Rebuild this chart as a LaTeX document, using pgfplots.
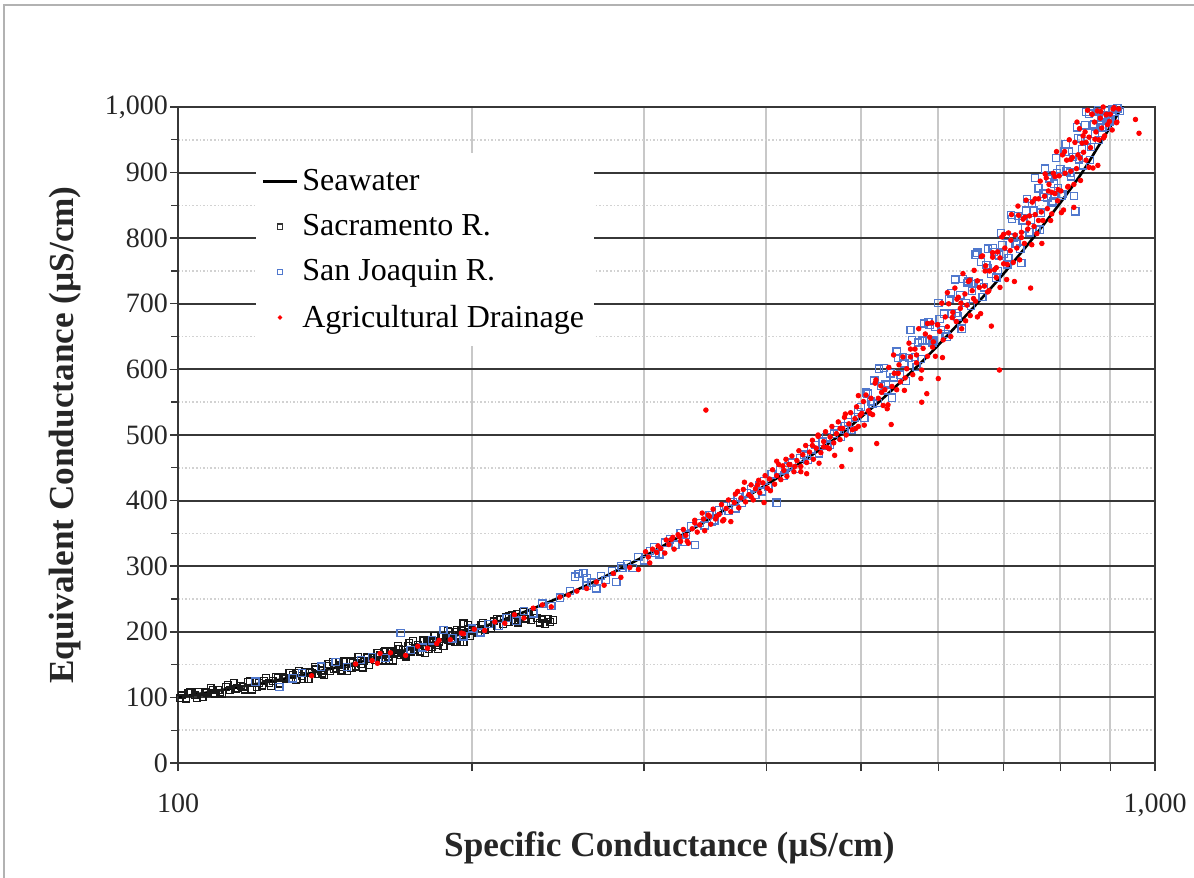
\documentclass[border=0pt]{standalone}
\usepackage{fontspec}
\setmainfont{Liberation Serif}
\usepackage{pgfplots}
\pgfplotsset{compat=1.18}
\definecolor{sjblue}{RGB}{80,120,205}
\definecolor{agred}{RGB}{255,0,0}
\definecolor{gridlight}{RGB}{200,200,200}
\definecolor{griddark}{RGB}{55,55,55}
\begin{document}
\begin{tikzpicture}
\path[use as bounding box] (-89pt,-57.5pt) rectangle (508pt,381.5pt);
\draw[gray!60, line width=1pt] (-87pt,-57.5pt) -- (-87pt,379pt) -- (508pt,379pt);
\begin{axis}[
  at={(0pt,0pt)}, anchor=south west,
  scale only axis, width=488.5pt, height=328pt,
  xmode=log, log basis x=10,
  xmin=100, xmax=1000, ymin=0, ymax=1000,
  xtick={100,200,300,400,500,600,700,800,900,1000},
  xticklabels={100,,,,,,,,,{1,000}},
  ytick={0,100,...,1000},
  minor ytick={50,150,...,950},
  /pgf/number format/assume math mode=true,
  /pgf/number format/1000 sep={,},
  tick label style={font=\fontsize{14pt}{17pt}\selectfont, black!85},
  xticklabel style={yshift=-8pt},
  yticklabel style={xshift=2.5pt},
  label style={font=\bfseries\fontsize{17.6pt}{20pt}\selectfont, black!85},
  xlabel={Specific Conductance (µS/cm)},
  ylabel={Equivalent Conductance (µS/cm)},
  xlabel style={at={(axis description cs:0.503,-0.13)}, anchor=center},
  ylabel style={at={(axis description cs:-0.1157,0.5)}, anchor=center, rotate=0},
  xmajorgrids=true, ymajorgrids=true, yminorgrids=true,
  major x grid style={gridlight, line width=0.9pt},
  major y grid style={griddark, line width=1pt},
  minor y grid style={gray!35, line width=0.8pt, densely dotted},
  tick align=outside, tick pos=left,
  major tick length=4pt, minor tick length=3.5pt,
  tick style={griddark, line width=0.7pt},
  axis line style={griddark, line width=1pt},
  legend style={at={(0.079,0.93)}, anchor=north west, draw=none, fill=white,
    font=\fontsize{16pt}{19pt}\selectfont, row sep=6.5pt, inner xsep=3pt, inner ysep=6pt},
  legend cell align=left,
]
\addlegendimage{black, line width=1.3pt}
\addlegendentry{Seawater}
\addlegendimage{only marks, mark=square, mark size=1.3pt, draw=black!80, mark options={line width=0.6pt}}
\addlegendentry{Sacramento R.}
\addlegendimage{only marks, mark=square, mark size=1.3pt, draw=sjblue, mark options={line width=0.6pt}}
\addlegendentry{San Joaquin R.}
\addlegendimage{only marks, mark=*, mark size=0.9pt, agred, mark options={draw=agred, fill=agred}}
\addlegendentry{Agricultural Drainage}

% Sacramento R.
\addplot[forget plot, only marks, mark=square, mark size=1.7pt, draw=black!90, mark options={line width=0.65pt}] coordinates {
(101,103) (102,98) (103,108) (104,103) (105,108) (106,100) (107,107) (108,114) (109,106) (110,111) (111,105) (112,116) (113,111) (114,122) (115,114) (116,118) (117,112) (118,124) (119,112) (120,124) (121,122) (122,118) (123,130) (124,122) (125,125) (126,131) (127,121) (128,131) (129,128) (130,137)
(131,134) (132,127) (133,140) (134,133) (135,139) (136,128) (137,137) (138,146) (139,135) (140,141) (141,134) (142,148) (143,140) (144,154) (145,144) (146,149) (147,141) (148,155) (149,140) (150,155) (151,153) (152,147) (153,162) (154,151) (155,155) (156,162) (157,149) (158,161) (159,157) (160,168)
(161,164) (162,156) (163,171) (164,162) (165,170) (166,156) (167,167) (168,178) (169,164) (170,172) (171,162) (172,179) (173,170) (174,186) (175,173) (176,180) (177,170) (178,187) (179,168) (180,185) (181,183) (182,177) (183,194) (184,180) (185,185) (186,193) (187,178) (188,192) (189,187) (190,200)
(191,195) (192,184) (193,203) (194,192) (195,201) (196,184) (197,197) (198,210) (199,193) (200,202)
(100.5,98.5) (102.5,106.6) (104.5,99.3) (106.5,107.6) (108.5,111.8) (110.5,107.2) (112.5,119.3) (114.5,113.4) (116.5,116.5) (118.5,124.4) (120.5,115.7) (122.5,125) (124.5,117) (126.5,130.3) (128.5,129.8) (130.5,127.9) (132.5,137.8) (134.5,127.8) (136.5,137.9) (138.5,142.7) (140.5,136.3) (142.5,151) (144.5,143.1) (146.5,146.5) (148.5,155.9)
(150.5,144.5) (152.5,155.6) (154.5,145.2) (156.5,161.2) (158.5,160.1) (160.5,157.3) (162.5,169) (164.5,156.3) (166.5,168.2) (168.5,173.6) (170.5,165.4) (172.5,182.9) (174.5,172.8) (176.5,176.5) (178.5,187.4) (180.5,173.3) (182.5,186.2) (184.5,173.4) (186.5,192.1) (188.5,190.4) (190.5,186.7) (192.5,200.2) (194.5,184.8) (196.5,198.5) (198.5,204.5)
(201.5,206) (203,199) (204.5,210) (206,203) (207.5,212) (209,206) (210.5,216) (212,209) (213.5,219) (215,212) (216.5,222) (218,215) (219.5,225) (221,217) (222.5,227) (224,221) (225.5,230) (227,220) (228.5,226) (230,218) (231.5,228) (233,221) (234.5,214) (236,219) (237.5,212) (239,220) (240.5,215) (242,218) (205,214) (212,220) (218,224) (223,214) (196,213) (189,201)
};
% San Joaquin R.
\addplot[forget plot, only marks, mark=square, mark size=1.8pt, draw=sjblue, mark options={line width=0.65pt}] coordinates {
(120,124) (127,116) (131,129) (134,137) (140,147) (145,154) (149,146) (154,157) (158,161) (163,160) (169,198) (173,172) (178,176) (182,187) (187,203) (191,190) (196,193) (200,205) (204,199) (208,212) (213,209) (217,221) (222,217) (226,232) (231,228) (236,243) (241,239) (246,252)
(252,262) (255,284) (257,288) (260,290) (262,270) (265,275) (268,266) (271,285) (274,279) (278,292) (281,276) (285,297) (288,303) (292,297) (296,314) (300,309) (304,323) (307,329) (311,318) (315,336) (319,341) (323,333) (327,350) (331,348) (335,361) (338,332) (342,366) (346,362) (350,378) (354,370) (358,385) (362,392) (366,384) (370,398) (374,405) (378,397) (382,411) (386,418) (390,409) (394,424) (398,430) (402,421) (405,440) (410,397) (413,446) (417,438) (421,452) (425,458) (429,448) (433,465) (437,470) (441,462) (445,478) (449,485) (453,472) (457,490) (461,497) (465,485) (469,502) (473,508) (477,497) (481,514) (485,520) (489,508) (493,527) (497,535)
(262,282) (284,300) (308,320) (330,337) (352,368) (372,388) (396,414) (418,446) (440,468) (462,484) (484,508)
(500,543) (504,526) (508,563) (512,551) (516,583) (520,549) (524,575) (528,602) (532,568) (536,594) (540,588) (544,627) (548,592) (552,619) (556,582) (560,617) (564,645) (568,619) (572,641) (576,616) (580,670) (584,644) (588,668) (592,641) (596,665) (600,701) (604,660) (608,685) (612,650) (616,707) (620,685) (624,737) (628,681) (632,713) (636,738) (640,701) (644,734) (648,697) (652,730) (655,775) (660,731) (664,764) (668,725) (672,759) (675,784) (680,746) (684,779) (688,740) (692,774) (696,808)
(700,776) (704,803) (708,770) (712,835) (716,801) (720,791) (724,834) (728,784) (732,827) (736,815) (740,860) (744,809) (748,853) (752,842) (756,814) (760,876) (764,839) (768,868) (772,906) (776,861) (780,891) (784,854) (788,883) (792,922) (796,876) (800,905) (804,867) (808,932) (812,902) (816,932) (820,894) (824,924) (829,841) (832,969) (836,920) (840,952) (844,911) (848,972) (852,948) (856,990) (860,939) (864,972) (868,959) (872,992) (876,950) (880,984) (884,969) (888,1003) (892,970) (896,994) (900,980) (905,996) (910,982) (915,998) (920,994)
(506,565) (514,547) (522,601) (530,577) (538,557) (546,617) (554,609) (562,660) (570,604) (578,644) (586,672) (594,644) (602,677) (610,654) (618,716) (626,686) (634,662) (642,732) (650,720) (658,778) (666,710) (674,754) (682,785) (690,750) (698,789) (706,760) (714,829) (722,793) (730,762) (738,842) (746,828) (754,892) (762,813) (770,863) (778,896) (786,856) (794,899) (802,865) (810,943) (818,900) (826,864) (834,953) (842,936) (850,992) (858,919) (866,974) (874,995) (882,968) (890,987) (898,978) (906,997)
};
% Agricultural Drainage
\addplot[forget plot, only marks, mark=*, mark size=1.15pt, draw=agred, fill=agred] coordinates {
(137,133) (152,151) (158,156) (160,152) (161,167) (165,168) (171,164) (176,178) (180,175) (184,182) (185,187) (190,188) (195,198) (196,197) (201,204) (206,202) (211,215) (216,213) (221,226) (226,221) (231,236) (236,241) (241,238) (246,253) (251,256) (256,262) (262,266) (268,276) (273,271) (279,289) (284,283) (290,298) (296,295)
(301,322) (303,314) (304,305) (306,326) (309,321) (310,331) (312,327) (315,320) (316,340) (318,333) (321,344) (322,326) (325,348) (327,338) (329,356) (331,347) (333,335) (336,357) (338,366) (340,352) (342,363) (345,372) (346,354) (347,538) (349,378) (351,364) (353,387) (355,372) (358,379) (360,394) (361,369) (364,388) (366,401) (368,383) (371,397) (372,410) (375,389) (377,404) (379,417) (381,398) (384,409) (386,424) (388,401) (390,418) (393,431) (394,412) (397,427) (399,438)
(401,419) (403,433) (406,447) (408,425) (410,438) (412,455) (414,432) (417,446) (419,463) (420,437) (423,455) (425,468) (427,444) (430,461) (432,476) (434,452) (436,470) (439,484) (440,458) (443,474) (446,492) (447,463) (450,480) (452,498) (453,457) (455,473) (458,490) (460,505) (462,481) (465,497) (467,513) (469,488) (472,502) (474,520) (476,493) (478,452) (479,510) (481,527) (483,500) (486,517) (488,534) (490,508) (493,525) (495,543) (497,513) (499,530)
(320,341) (332,338) (344,381) (356,376) (368,368) (380,428) (392,424) (404,415) (416,453) (428,452) (440,441) (452,500) (464,479) (476,510) (488,478) (497,560) (326,345) (338,370) (350,376) (362,371) (374,414) (386,406) (398,397) (410,460) (422,455) (434,444) (446,484) (458,482) (470,469) (482,532) (494,510)
(501,533) (504,515) (506,561) (509,537) (512,556) (514,531) (517,579) (519,487) (521,556) (524,575) (527,545) (529,569) (532,540) (534,603) (537,516) (538,574) (541,594) (544,569) (546,594) (549,581) (552,619) (554,568) (557,601) (560,640) (562,619) (565,592) (568,631) (570,610) (573,662) (576,586) (577,550) (579,632) (582,654) (584,563) (585,620) (588,649) (591,671) (593,642) (596,620) (599,668)
(600,586) (602,658) (605,701) (607,645) (610,680) (613,665) (615,700) (618,650) (621,687) (624,724) (626,673) (629,710) (632,693) (634,662) (636,746) (639,715) (642,698) (644,734) (647,682) (650,720) (653,751) (655,704) (658,735) (661,725) (663,685) (666,773) (669,727) (671,758) (674,718) (677,750) (680,666) (682,778) (685,752) (688,740) (690,779) (693,599) (694,770) (697,802)
(700,761) (702,785) (705,737) (708,808) (711,781) (713,836) (716,763) (719,805) (722,785) (725,835) (727,767) (730,809) (733,829) (735,792) (738,858) (741,814) (744,834) (746,724) (749,855) (752,818) (754,836) (757,807) (760,860) (763,887) (765,840) (768,827) (771,864) (774,892) (776,845) (779,882) (782,827) (784,870) (787,899) (790,868) (793,932) (795,857) (798,895)
(801,872) (804,927) (806,843) (809,899) (812,919) (815,879) (817,950) (820,902) (823,923) (826,882) (828,946) (831,906) (834,927) (837,967) (839,888) (842,945) (845,931) (848,962) (850,919) (853,995) (856,954) (859,938) (862,989) (864,907) (867,977) (870,962) (873,994) (876,950) (879,983) (882,968) (885,1000) (888,956) (891,988) (894,973) (897,1005) (900,989) (904,965) (908,999) (913,976) (918,997) (955,981) (963,960)
(503,551) (511,533) (518,584) (525,565) (533,546) (540,622) (547,607) (555,587) (562,631) (570,622) (577,599) (585,670) (592,634) (599,668) (606,618) (613,717) (620,679) (627,707) (633,701) (640,674) (646,736) (652,708) (658,680) (664,772) (670,750) (676,720) (682,771) (688,755) (694,725) (700,806) (706,760) (712,797) (718,734) (724,849) (730,801) (736,832) (742,823) (748,790) (754,860) (760,827) (766,792) (772,898) (778,872) (784,837) (790,894) (796,874) (802,839) (808,932) (814,878) (820,920) (826,847) (832,977) (838,922) (844,956) (850,946) (856,908) (862,989) (868,951) (874,911) (880,993) (886,953) (892,989) (898,978) (906,997) (914,977)
};
% Seawater
\addplot[forget plot, black, line width=1.3pt, smooth] coordinates {
(100,100) (125,125) (150,150.5) (175,176) (200,202) (225,229) (250,257) (275,286) (300,315) (325,344) (350,372) (376,400) (400,424) (425,449) (450,474) (476,500) (500,527) (525,554) (550,582) (575,609) (600,637) (625,665) (657,700) (700,746) (750,800) (800,854) (842,900) (875,940) (900,970) (925,1000) (940,1018)
};
\end{axis}
\end{tikzpicture}
\end{document}
